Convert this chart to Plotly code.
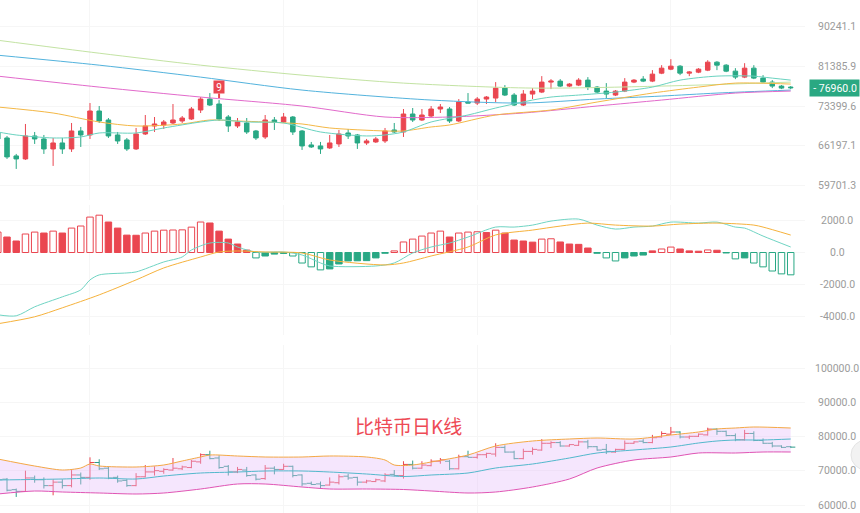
import math
import plotly.graph_objects as go

# ---------------- data ----------------
idx = list(range(87))

opens = [68452, 67573, 64501, 64002, 67924, 67399, 65679, 66705, 65679, 68807,
         68099, 72458, 70792, 68099, 67225, 65679, 68276, 69702, 69883, 70245,
         70609, 70975, 72646, 74738, 73780, 71343, 69702, 70245, 68807, 67748,
         70792, 70427, 71343, 68807, 66361, 66190, 65849, 66533, 68452, 68099,
         66705, 66878, 67051, 68985, 68630, 71899, 70792, 71528, 72834, 72834,
         70609, 74161, 73970, 74738, 74931, 76891, 75513, 73590, 75709, 76101,
         78091, 78292, 77289, 77488, 78495, 77089, 76297, 75513, 76297, 78091,
         78698, 78292, 79926, 80755, 81383, 79926, 80132, 80547, 82228, 81593,
         80339, 79105, 80964, 78901, 78091, 77289, 77089]
highs = [68985, 67924, 64835, 70064, 68630, 68099, 67573, 67573, 70245, 69522,
         73970, 73400, 71159, 68630, 67573, 69343, 71713, 71343, 70792, 73780,
         71528, 73211, 75125, 75904, 74545, 71713, 71159, 71159, 68985, 71713,
         71343, 72085, 71528, 68985, 66878, 66878, 68099, 68985, 69164, 68276,
         67399, 67748, 69343, 70245, 72834, 73022, 72834, 73400, 73780, 73211,
         74738, 75904, 75125, 75319, 78091, 77488, 75904, 76495, 76891, 79309,
         78698, 78698, 77889, 78901, 79105, 77289, 77889, 76495, 78901, 78698,
         79309, 80547, 81593, 82867, 81593, 80339, 80964, 82653, 82440, 81804,
         80964, 82016, 81593, 79514, 78495, 77488, 77289]
lows = [67051, 64002, 62366, 63837, 66533, 64835, 62853, 64835, 65171, 66019,
        67399, 70245, 67573, 66533, 65340, 65509, 68099, 68630, 69164, 70064,
        70245, 70792, 72085, 73400, 70609, 68630, 69343, 68276, 67225, 67399,
        68985, 70245, 68099, 65509, 65849, 64835, 65679, 66019, 67399, 65679,
        66361, 66705, 66705, 68452, 67748, 70427, 70609, 71343, 72085, 70245,
        70427, 73970, 73590, 73780, 74161, 75319, 73400, 73400, 74738, 75904,
        76692, 77089, 77089, 77289, 76495, 75904, 74931, 75319, 76101, 77889,
        78091, 78091, 79720, 80547, 79514, 79309, 79926, 80339, 80547, 80132,
        78698, 78901, 78698, 77889, 76891, 76692, 76692]
closes = [67399, 64334, 64002, 67924, 67399, 65679, 66705, 65679, 68807, 68099,
          72458, 70609, 67924, 67051, 65679, 68276, 69702, 70064, 70427, 70792,
          71159, 72834, 74738, 73590, 70975, 69702, 70427, 68630, 67573, 70792,
          70427, 71343, 68630, 66190, 66019, 65679, 66705, 68276, 67924, 66705,
          67051, 67399, 68807, 68630, 71899, 70792, 71713, 72834, 73211, 70609,
          74161, 73970, 74738, 75125, 76891, 75513, 73590, 75709, 76297, 78091,
          78292, 77289, 77689, 78495, 77089, 76101, 75709, 76297, 78091, 78495,
          78292, 79720, 80964, 81383, 79926, 80132, 80755, 82228, 81593, 80339,
          79105, 80964, 78901, 78091, 77289, 76891, 76960]
last_price = 76960.0

# moving averages on the price panel (index, value)
ma1_idx = [0, 11, 22, 33, 44, 58, 72, 86]
ma1_val = [87030, 84159, 81593, 79514, 77889, 76891, 77289, 78091]
ma2_idx = [0, 11, 22, 33, 47, 57, 65, 72, 78, 86]
ma2_val = [83726, 81593, 79105, 76495, 74545, 73970, 74738, 75319, 75904, 76495]
ma3_idx = [0, 11, 22, 33, 42, 49, 57, 65, 72, 80, 86]
ma3_val = [79309, 77089, 75125, 73400, 71343, 71343, 72085, 73400, 74545, 75904, 76297]
ma4_idx = [0, 6, 11, 15, 20, 23, 26, 29, 33, 36, 42, 44, 47, 49, 54, 60, 65, 71, 76, 80, 86]
ma4_val = [73211, 72085, 70427, 69702, 70064, 70792, 70609, 70427, 70064, 69343, 68807,
           68807, 69522, 69883, 71713, 72646, 74161, 75904, 77089, 77889, 77689]
ma5_idx = [0, 2, 6, 9, 11, 15, 18, 22, 24, 27, 31, 35, 40, 42, 44, 47, 51, 54, 58, 60,
           63, 67, 71, 74, 78, 82, 83, 86]
ma5_val = [68630, 68099, 67573, 67748, 68452, 68452, 69343, 70427, 70792, 70427, 70245,
           68630, 67924, 68099, 68630, 70427, 71713, 73022, 74545, 75125, 75513, 76101,
           77089, 78495, 79309, 79309, 79105, 78495]

# MACD
macd_hist = [1280, 970, 720, 1160, 1280, 1220, 1340, 1220, 1530, 1660,
             2220, 2340, 1910, 1530, 1090, 1080, 1220, 1340, 1400, 1410,
             1420, 1590, 1910, 1850, 1340, 840, 530, 150, -340, -220,
             -100, -60, -220, -660, -900, -1090, -1030, -720, -530, -520,
             -510, -340, -50, 100, 660, 840, 1030, 1220, 1340, 970,
             1220, 1280, 1300, 1250, 1400, 1220, 780, 720, 650, 840,
             860, 660, 530, 510, 280, -50, -340, -530, -340, -220,
             -160, 100, 220, 340, 220, 100, 80, 160, 140, -30,
             -400, -340, -660, -900, -1160, -1340, -1400]
dif_idx = [0, 2, 4, 7, 9, 10, 11, 14, 15, 18, 20, 21, 23, 25, 26, 28, 31, 33, 35, 36,
           41, 43, 45, 47, 49, 51, 54, 56, 58, 60, 63, 65, 67, 69, 71, 73, 76, 78, 80, 81,
           83, 86]
dif_val = [-3906, -3969, -3406, -2781, -2344, -1719, -1406, -1281, -1219, -594,
           -281, 156, 594, 594, 344, 31, 31, -156, -656, -844,
           -844, -656, -31, 344, 594, 969, 1594, 1594, 1719, 1969,
           2094, 1719, 1469, 1594, 1656, 1906, 1844, 1906, 1594, 1531,
           1031, 344]
dea_idx = [0, 4, 7, 11, 15, 18, 22, 24, 26, 29, 33, 36, 42, 44, 47, 51, 54, 58, 61, 64,
           67, 71, 74, 78, 82, 83, 86]
dea_val = [-4469, -4031, -3469, -2656, -1719, -969, -281, 31, 94, 31,
           -31, -469, -781, -656, -219, 344, 1100, 1406, 1656, 1844,
           1719, 1656, 1781, 1844, 1719, 1594, 1094]

# Bollinger bands (bottom panel)
bu_idx = [0, 4, 7, 9, 10, 11, 15, 18, 20, 22, 23, 26, 29, 33, 36, 40, 42, 43, 45, 47,
          51, 54, 58, 62, 65, 69, 73, 76, 78, 80, 82, 86]
bu_val = [73483, 71433, 70261, 70847, 72018, 71433, 71140, 71726, 72897, 74069,
          74655, 74362, 74069, 74069, 74362, 74069, 73190, 71726, 71726, 72604,
          74655, 77291, 78755, 79341, 79634, 79341, 80513, 81391, 82270, 82563,
          82856, 82563]
bm_idx = [0, 7, 11, 15, 18, 22, 26, 29, 33, 36, 40, 44, 47, 51, 54, 58, 62, 65, 69, 73,
          76, 78, 80, 83, 86]
bm_val = [67332, 67625, 67918, 67625, 68504, 69382, 69675, 69968, 69968, 69675,
          69089, 68357, 68797, 69382, 70847, 72018, 73776, 75240, 76119, 76998,
          78169, 78755, 79048, 79048, 79341]
bl_idx = [0, 4, 7, 11, 15, 18, 22, 26, 29, 33, 36, 40, 44, 47, 51, 54, 58, 62, 65, 69,
          73, 76, 80, 83, 86]
bl_val = [63231, 64110, 63817, 63524, 63231, 63524, 64696, 66160, 66160, 65282,
          64696, 64696, 64550, 64110, 63524, 63817, 65282, 67625, 70847, 73190,
          74069, 75240, 75240, 75533, 75533]

price_ticks = [90241.1, 81385.9, 73399.6, 66197.1, 59701.3]
macd_ticks = [2000.0, 0.0, -2000.0, -4000.0]
boll_ticks = [100000.0, 90000.0, 80000.0, 70000.0, 60000.0]
title_text = "比特币日K线"
td_label = "9"
td_index = 24

# ---------------- styling ----------------
RED = "#ea4650"
GREEN = "#28a884"
GREEN_BAR = "#2f9c8c"
GRID = "#f6f6f6"
TICK_COL = "#9b9b9b"
FONT = "Roboto"

fig = go.Figure()

ma_specs = [(ma1_idx, ma1_val, "#c3e3a3"), (ma2_idx, ma2_val, "#53b3dd"),
            (ma3_idx, ma3_val, "#e26acb"), (ma4_idx, ma4_val, "#f4b846"),
            (ma5_idx, ma5_val, "#6ad3c0")]
for ix, vals, col in ma_specs:
    fig.add_trace(go.Scatter(x=ix, y=vals, mode="lines",
                             line=dict(color=col, width=1, shape="spline", smoothing=0.8),
                             xaxis="x", yaxis="y", hoverinfo="skip"))

fig.add_trace(go.Candlestick(
    x=idx, open=opens, high=highs, low=lows, close=closes,
    increasing=dict(line=dict(color=RED, width=1), fillcolor=RED),
    decreasing=dict(line=dict(color=GREEN, width=1), fillcolor=GREEN),
    whiskerwidth=0, xaxis="x", yaxis="y", hoverinfo="skip"))

# MACD histogram: hollow when magnitude grows
fills, edges = [], []
prev = None
for v in macd_hist:
    base = RED if v >= 0 else GREEN
    hollow = prev is None or abs(v) > abs(prev)
    fills.append("white" if hollow else base)
    edges.append(base)
    prev = v
fig.add_trace(go.Bar(x=idx, y=macd_hist, width=0.7,
                     marker=dict(color=fills, line=dict(color=edges, width=1)),
                     xaxis="x", yaxis="y2", hoverinfo="skip"))
fig.add_trace(go.Scatter(x=dif_idx, y=dif_val, mode="lines",
                         line=dict(color="#6fd4c3", width=1, shape="spline", smoothing=0.8),
                         xaxis="x", yaxis="y2", hoverinfo="skip"))
fig.add_trace(go.Scatter(x=dea_idx, y=dea_val, mode="lines",
                         line=dict(color="#f6b23c", width=1, shape="spline", smoothing=0.8),
                         xaxis="x", yaxis="y2", hoverinfo="skip"))

# Bollinger band fill + lines
fig.add_trace(go.Scatter(x=bu_idx + bl_idx[::-1], y=bu_val + bl_val[::-1],
                         mode="lines", fill="toself", fillcolor="rgba(228,190,250,0.38)",
                         line=dict(width=0), xaxis="x", yaxis="y3", hoverinfo="skip"))
for ix, vals, col in [(bu_idx, bu_val, "#f4a845"), (bm_idx, bm_val, "#52b8cc"),
                      (bl_idx, bl_val, "#e055b4")]:
    fig.add_trace(go.Scatter(x=ix, y=vals, mode="lines",
                             line=dict(color=col, width=1, shape="spline", smoothing=0.8),
                             xaxis="x", yaxis="y3", hoverinfo="skip"))
fig.add_trace(go.Ohlc(x=idx, open=opens, high=highs, low=lows, close=closes,
                      tickwidth=0.5,
                      increasing=dict(line=dict(color=RED, width=1)),
                      decreasing=dict(line=dict(color=GREEN_BAR, width=1)),
                      xaxis="x", yaxis="y3", hoverinfo="skip"))

W, H = 860, 513
right_px = 805
lbl_x = 837 / W

annotations = []
for v in price_ticks:
    annotations.append(dict(x=lbl_x, xref="paper", y=math.log10(v), yref="y",
                            text=f"{v:.1f}", showarrow=False, xanchor="center",
                            font=dict(family=FONT, size=10.5, color=TICK_COL)))
for v in macd_ticks:
    annotations.append(dict(x=lbl_x, xref="paper", y=v, yref="y2",
                            text=f"{v:.1f}", showarrow=False, xanchor="center",
                            font=dict(family=FONT, size=10.5, color=TICK_COL)))
for v in boll_ticks:
    annotations.append(dict(x=lbl_x, xref="paper", y=v, yref="y3",
                            text=f"{v:.1f}", showarrow=False, xanchor="center",
                            font=dict(family=FONT, size=10.5, color=TICK_COL)))

# last price box
annotations.append(dict(x=1, xref="paper", y=math.log10(last_price), yref="y",
                        text=f"- {last_price:.1f}", showarrow=False, xanchor="right",
                        align="right", width=45, height=12, borderpad=2,
                        bgcolor="#2aa882", font=dict(family=FONT, size=10.5, color="white")))

# TD "9" marker with a short pointer to the candle
annotations.append(dict(x=td_index, y=math.log10(highs[td_index]), xref="x", yref="y",
                        text=td_label, showarrow=True, ax=0, ay=-13,
                        arrowhead=0, arrowwidth=2, arrowcolor=RED, standoff=2,
                        width=8, height=10, borderpad=1, bgcolor=RED,
                        font=dict(family=FONT, size=10, color="white")))

# watermark title
annotations.append(dict(x=408 / W, y=1 - 425 / H, xref="paper", yref="paper",
                        text=title_text, showarrow=False, xanchor="center", yanchor="middle",
                        font=dict(family="Noto Sans CJK SC", size=19, color="#ee4a55")))

fig.update_layout(
    width=W, height=H, margin=dict(l=0, r=0, t=0, b=0),
    paper_bgcolor="white", plot_bgcolor="white",
    showlegend=False, hovermode=False,
    annotations=annotations,
    xaxis=dict(domain=[0, right_px / W], range=[0.24, 87.55], anchor="y3",
               showticklabels=False, showgrid=True, gridcolor=GRID,
               tickvals=[10, 31, 52, 73], zeroline=False, showline=False,
               rangeslider=dict(visible=False), ticks=""),
    yaxis=dict(type="log", domain=[1 - 200 / H, 1], range=[4.760, 4.98494], anchor="x",
               tickvals=price_ticks, showticklabels=False, showgrid=True, gridcolor=GRID,
               zeroline=False, showline=False, ticks=""),
    yaxis2=dict(domain=[1 - 335 / H, 1 - 205 / H], range=[-5173, 2978], anchor="x",
                tickvals=macd_ticks, showticklabels=False, showgrid=True, gridcolor=GRID,
                zeroline=False, showline=False, ticks=""),
    yaxis3=dict(domain=[0, 1 - 345 / H], range=[57666, 106874], anchor="x",
                tickvals=boll_ticks, showticklabels=False, showgrid=True, gridcolor=GRID,
                zeroline=False, showline=False, ticks=""),
    shapes=[dict(type="circle", xref="paper", yref="paper",
                 x0=851 / W, x1=881 / W, y0=1 - 470 / H, y1=1 - 440 / H,
                 fillcolor="#f2f2f2", line=dict(color="#e4e4e4", width=1))],
)

fig.write_html("out.html")
